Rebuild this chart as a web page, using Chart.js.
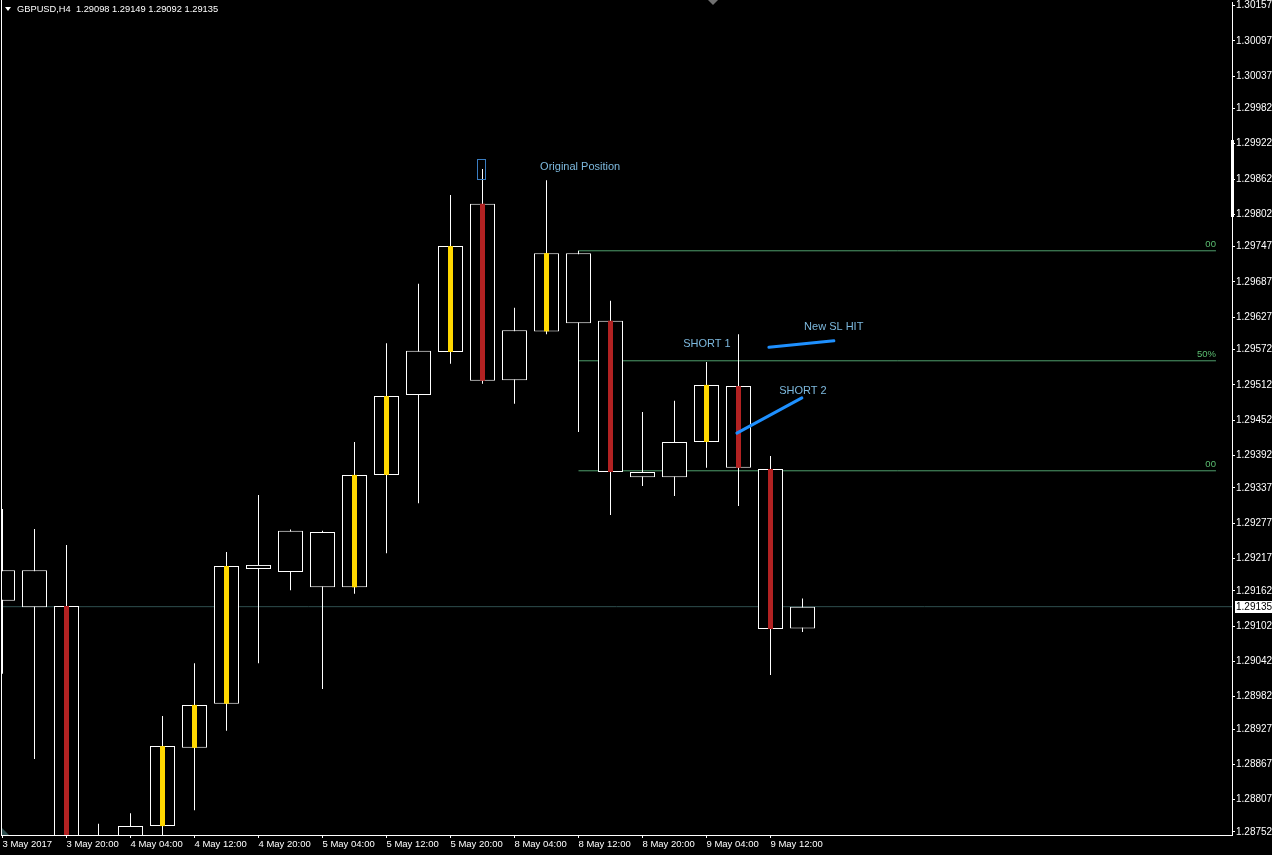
<!DOCTYPE html>
<html>
<head>
<meta charset="utf-8">
<script src="https://cdn.jsdelivr.net/npm/chart.js@4.4.1/dist/chart.umd.min.js"></script>
<style>
html, body { margin: 0; padding: 0; background: #000; }
</style>
</head>
<body>
<canvas id="chart" width="1272" height="855"></canvas>
<script>
// GBPUSD H4 candles, one per 4 hours
const symbolName = 'GBPUSD';
const period = 'H4';

const timeLabels = ['3 May 2017', '3 May 20:00', '4 May 04:00', '4 May 12:00', '4 May 20:00',
	'5 May 04:00', '5 May 12:00', '5 May 20:00', '8 May 04:00', '8 May 12:00', '8 May 20:00',
	'9 May 04:00', '9 May 12:00'];
const timeTickIdx = [0, 2, 4, 6, 8, 10, 12, 14, 16, 18, 20, 22, 24];

const priceTicks = [1.30157, 1.30097, 1.30037, 1.29982, 1.29922, 1.29862, 1.29802, 1.29747,
	1.29687, 1.29627, 1.29572, 1.29512, 1.29452, 1.29392, 1.29337, 1.29277, 1.29217, 1.29162,
	1.29102, 1.29042, 1.28982, 1.28927, 1.28867, 1.28807, 1.28752];

const opens  = [1.29145, 1.29197, 1.29136, 1.28737, 1.28727, 1.28762, 1.28895, 1.28970, 1.29199, 1.29194,
	1.29262, 1.29168, 1.29359, 1.29495, 1.29568, 1.29820, 1.29520, 1.29603, 1.29736, 1.29621,
	1.29364, 1.29355, 1.29415, 1.29510, 1.29369, 1.29098];
const highs  = [1.29301, 1.29267, 1.29240, 1.28766, 1.28784, 1.28949, 1.29039, 1.29228, 1.29325, 1.29266,
	1.29264, 1.29415, 1.29583, 1.29684, 1.29835, 1.29879, 1.29643, 1.29860, 1.29740, 1.29655,
	1.29466, 1.29485, 1.29551, 1.29598, 1.29391, 1.29149];
const lows   = [1.29021, 1.28876, 1.28712, 1.28690, 1.28705, 1.28740, 1.28789, 1.28924, 1.29039, 1.29163,
	1.28995, 1.29157, 1.29226, 1.29311, 1.29548, 1.29514, 1.29480, 1.29598, 1.29432, 1.29291,
	1.29340, 1.29323, 1.29371, 1.29306, 1.29019, 1.29092];
const closes = [1.29197, 1.29134, 1.28735, 1.28725, 1.28762, 1.28898, 1.28968, 1.29204, 1.29206, 1.29264,
	1.29168, 1.29359, 1.29493, 1.29570, 1.29748, 1.29519, 1.29605, 1.29736, 1.29617, 1.29364,
	1.29355, 1.29415, 1.29512, 1.29371, 1.29097, 1.29135];
// indicator bar inside the candle: 1 = gold, -1 = red, 0 = none
const signals = [0, 0, -1, 0, 0, 1, 1, 1, 0, 0, 0, 1, 1, 0, 1, -1, 0, 1, 0, -1, 0, 0, 1, -1, -1, 0];

const bidPrice = 1.29135;

// fibonacci retracement
const fibHigh = 1.29740;
const fibLow = 1.29366;
const fibLevels = [0, 0.5, 1];
const fibLabels = ['00', '50%', '00'];
const fibFrom = 18;
const fibTo = 37.92;

// hand drawn notes (bar index, price)
const noteTexts = ['Original Position', 'SHORT 1', 'New SL HIT', 'SHORT 2'];
const noteX = [16.8, 21.27, 25.05, 24.27];
const noteY = [1.29882, 1.29582, 1.29610, 1.29502];
const strokeFrom = [[23.95, 1.29576], [22.95, 1.29430]];
const strokeTo = [[25.98, 1.29587], [24.98, 1.29490]];
const markBox = [14.83, 15.08, 1.29862, 1.29896];

const idx = opens.map((o, i) => i);
const bodyData = idx.map(i => ({x: i, y: [opens[i], closes[i]]}));
const wickData = idx.map(i => ({x: i, y: [lows[i], highs[i]]}));
const sigIdx = idx.filter(i => signals[i] !== 0);
const sigData = sigIdx.map(i => ({x: i, y: [opens[i], closes[i]]}));
const sigColors = sigIdx.map(i => signals[i] > 0 ? '#FFD700' : '#B22222');

const axisFont = {family: '"Liberation Sans", Arial, sans-serif', size: 10};

let datasets = [];
datasets.push({type: 'bar', data: sigData, backgroundColor: sigColors, borderWidth: 0,
	barThickness: 5, stack: 'c', inflateAmount: 0, order: 0});
datasets.push({type: 'bar', data: bodyData, backgroundColor: '#000', borderColor: '#fff', borderWidth: 1,
	borderSkipped: false, barThickness: 25, stack: 'c', inflateAmount: 0, order: 1});
datasets.push({type: 'bar', data: wickData, backgroundColor: '#fff', borderWidth: 0,
	barThickness: 1, stack: 'c', inflateAmount: 0, order: 2});
fibLevels.forEach(function(lvl) {
	let p = fibLow + lvl * (fibHigh - fibLow);
	datasets.push({type: 'line', data: [{x: fibFrom, y: p}, {x: fibTo, y: p}], borderColor: '#4F9E6C',
		borderWidth: 1, pointRadius: 0, order: 5});
});
datasets.push({type: 'line', data: [{x: -1, y: bidPrice}, {x: 40, y: bidPrice}], borderColor: '#2F4F4F',
	borderWidth: 1, pointRadius: 0, order: 6});
strokeFrom.forEach(function(a, k) {
	let b = strokeTo[k];
	datasets.push({type: 'line', data: [{x: a[0], y: a[1]}, {x: b[0], y: b[1]}], borderColor: '#1E90FF',
		borderWidth: 3, borderCapStyle: 'round', pointRadius: 0, order: -1});
});

const overlay = {
	id: 'overlay',
	beforeDraw(chart) {
		let ctx = chart.ctx;
		ctx.save();
		ctx.fillStyle = '#000';
		ctx.fillRect(0, 0, chart.width, chart.height);
		ctx.restore();
	},
	afterDatasetsDraw(chart) {
		let ctx = chart.ctx, xs = chart.scales.x, ys = chart.scales.y;
		ctx.save();
		ctx.font = '11px "Liberation Sans", Arial, sans-serif';
		ctx.textBaseline = 'middle';
		ctx.textAlign = 'left';
		ctx.fillStyle = '#7DB9DE';
		noteTexts.forEach(function(t, k) {
			ctx.fillText(t, xs.getPixelForValue(noteX[k]), ys.getPixelForValue(noteY[k]));
		});
		// fib labels
		ctx.font = '9.5px "Liberation Sans", Arial, sans-serif';
		ctx.textAlign = 'right';
		ctx.fillStyle = '#5CBF72';
		fibLevels.forEach(function(lvl, k) {
			let p = fibLow + lvl * (fibHigh - fibLow);
			ctx.fillText(fibLabels[k], xs.getPixelForValue(fibTo), ys.getPixelForValue(p) - 6);
		});
		// small marker box
		let bx0 = Math.round(xs.getPixelForValue(markBox[0])) + 0.5;
		let bx1 = Math.round(xs.getPixelForValue(markBox[1])) + 0.5;
		let by0 = Math.round(ys.getPixelForValue(markBox[3])) + 0.5;
		let by1 = Math.round(ys.getPixelForValue(markBox[2])) + 0.5;
		ctx.strokeStyle = '#3A7CC0';
		ctx.lineWidth = 1;
		ctx.strokeRect(bx0, by0, bx1 - bx0, by1 - by0);
		ctx.restore();
	},
	afterDraw(chart) {
		let ctx = chart.ctx, area = chart.chartArea, ys = chart.scales.y;
		ctx.save();
		// left frame
		ctx.fillStyle = '#fff';
		ctx.fillRect(1, 0, 1, area.bottom);
		// scale marker on price axis
		ctx.fillRect(area.right - 1, 140, 3, 77);
		// bid label
		let by = ys.getPixelForValue(bidPrice);
		ctx.fillRect(area.right + 3, Math.round(by) - 6, chart.width - area.right - 3, 12);
		ctx.fillStyle = '#000';
		ctx.font = '10px "Liberation Sans", Arial, sans-serif';
		ctx.textBaseline = 'middle';
		ctx.textAlign = 'left';
		ctx.fillText(bidPrice.toFixed(5), area.right + 4, Math.round(by));
		// title
		let n = closes.length - 1;
		ctx.fillStyle = '#fff';
		ctx.beginPath();
		ctx.moveTo(5, 7); ctx.lineTo(11, 7); ctx.lineTo(8, 11); ctx.closePath();
		ctx.fill();
		ctx.font = '9.3px "Liberation Sans", Arial, sans-serif';
		ctx.fillText(symbolName + ',' + period + '  ' + opens[n].toFixed(5) + ' ' + highs[n].toFixed(5) + ' ' +
			lows[n].toFixed(5) + ' ' + closes[n].toFixed(5), 17, 9);
		// chart shift marker
		ctx.fillStyle = '#707070';
		ctx.beginPath();
		ctx.moveTo(708, 0); ctx.lineTo(718, 0); ctx.lineTo(713, 5); ctx.closePath();
		ctx.fill();
		ctx.fillStyle = '#2F4F4F';
		ctx.beginPath();
		ctx.moveTo(2, area.bottom - 7); ctx.lineTo(2, area.bottom); ctx.lineTo(9, area.bottom); ctx.closePath();
		ctx.fill();
		ctx.restore();
	}
};

new Chart(document.getElementById('chart'), {
	type: 'bar',
	data: {datasets: datasets},
	plugins: [overlay],
	options: {
		responsive: false,
		animation: false,
		events: [],
		layout: {padding: {left: 1, top: 2, right: 0, bottom: 0}},
		plugins: {legend: {display: false}, tooltip: {enabled: false}},
		scales: {
			x: {
				type: 'linear',
				min: -0.046875,
				max: 38.421875,
				offset: false,
				bounds: 'data',
				grid: {offset: false, drawOnChartArea: false, drawTicks: true, tickLength: 3, color: '#fff'},
				border: {color: '#fff'},
				ticks: {
					color: '#fff', font: {family: axisFont.family, size: 9.5}, align: 'start',
					autoSkip: false, maxRotation: 0, padding: 1,
					callback: (v, i) => timeLabels[i]
				},
				afterBuildTicks: scale => { scale.ticks = timeTickIdx.map(v => ({value: v})); },
				afterFit: scale => { scale.height = 20; scale.paddingLeft = 0; scale.paddingRight = 0; }
			},
			y: {
				type: 'linear',
				position: 'right',
				min: 1.2874685,
				max: 1.3016295,
				stacked: false,
				bounds: 'data',
				grid: {drawOnChartArea: false, drawTicks: true, tickLength: 3, color: '#fff'},
				border: {color: '#fff'},
				ticks: {color: '#fff', font: axisFont, padding: 1, callback: v => v.toFixed(5)},
				afterBuildTicks: scale => { scale.ticks = priceTicks.map(v => ({value: v})); },
				afterFit: scale => { scale.width = 40; scale.paddingTop = 0; scale.paddingBottom = 0; }
			}
		}
	}
});
</script>
</body>
</html>
